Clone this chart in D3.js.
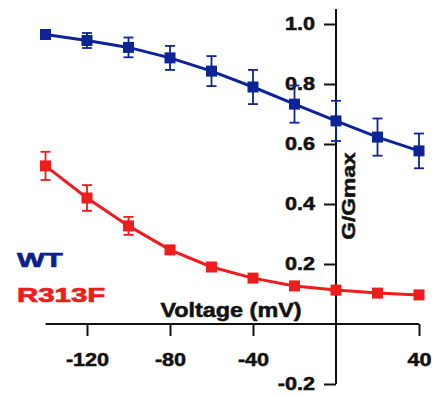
<!DOCTYPE html>
<html>
<head>
<meta charset="utf-8">
<script src="https://cdn.jsdelivr.net/npm/d3@7"></script>
<style>
  body { margin: 0; background: #fff; }
  svg { display: block; font-family: "Liberation Sans", Arial, sans-serif; font-weight: bold; }
</style>
</head>
<body>
<svg id="chart" width="436" height="396"></svg>
<script>
var voltages = [-140, -120, -100, -80, -60, -40, -20, 0, 20, 40];
var wtMean = [0.965, 0.945, 0.922, 0.887, 0.843, 0.79, 0.733, 0.677, 0.623, 0.577];
var wtErr = [0.006, 0.025, 0.033, 0.04, 0.05, 0.057, 0.062, 0.067, 0.062, 0.058];
var mutMean = [0.527, 0.42, 0.327, 0.247, 0.19, 0.153, 0.127, 0.113, 0.103, 0.097];
var mutErr = [0.047, 0.043, 0.03, 0.01, 0.006, 0.005, 0.004, 0.004, 0.004, 0.004];
var xTicks = [-120, -80, -40, 40];
var yTicks = [-0.2, 0.2, 0.4, 0.6, 0.8, 1.0];

var svg = d3.select('#chart');
var x = d3.scaleLinear().domain([-140, 40]).range([45.5, 419]);
var y = d3.scaleLinear().domain([0, 1]).range([324, 24]);

// the source text is a wide heavy face, so stretch it sideways and thicken it
function styleTicks(g, shiftX) {
  g.selectAll('.tick line').attr('stroke', '#111').attr('stroke-width', 2);
  g.selectAll('.tick text').attr('fill', '#111')
    .attr('stroke', '#111').attr('stroke-width', 0.5)
    .style('font-size', '18px').style('font-weight', 'bold')
    .style('font-family', '"Liberation Sans", Arial, sans-serif')
    .attr('x', 0)
    .attr('transform', 'translate(' + shiftX + ',0) scale(1.2,1)');
}

var xAxis = d3.axisBottom(x).tickValues(xTicks).tickSize(12).tickPadding(17).tickSizeOuter(0)
  .tickFormat(function(d) { return String(d); });
var gx = svg.append('g').attr('transform', 'translate(0,' + y(0) + ')').call(xAxis);
gx.select('.domain').attr('stroke', '#111').attr('stroke-width', 2)
  .attr('d', 'M' + x(-140) + ',0H' + x(40));
styleTicks(gx, 0);

var yAxis = d3.axisLeft(y).tickValues(yTicks).tickSize(12).tickPadding(9).tickSizeOuter(0)
  .tickFormat(function(d) { return d.toFixed(1); });
var gy = svg.append('g').attr('transform', 'translate(' + x(0) + ',0)').call(yAxis);
gy.select('.domain').attr('stroke', '#111').attr('stroke-width', 2)
  .attr('d', 'M0,' + y(1.05) + 'V' + y(-0.2));
styleTicks(gy, -21);

svg.append('text').attr('transform', 'translate(231,317) scale(1.2,1)').attr('text-anchor', 'middle')
  .attr('stroke', '#111').attr('stroke-width', 0.5)
  .style('font-size', '19.5px').attr('fill', '#111').text('Voltage (mV)');
svg.append('text').attr('transform', 'translate(355,196) rotate(-90) scale(1.2,1)')
  .attr('stroke', '#111').attr('stroke-width', 0.5)
  .attr('text-anchor', 'middle').style('font-size', '19px').attr('fill', '#111').text('G/Gmax');

function drawSeries(means, errs, color) {
  var pts = voltages.map(function(v, i) { return {v: v, m: means[i], e: errs[i]}; });
  var g = svg.append('g');
  g.append('path').datum(pts)
    .attr('fill', 'none').attr('stroke', color).attr('stroke-width', 3)
    .attr('d', d3.line().x(function(d) { return x(d.v); }).y(function(d) { return y(d.m); }));
  var eb = g.selectAll('g.err').data(pts).enter().append('g').attr('class', 'err')
    .attr('stroke', color).attr('stroke-width', 1.8);
  eb.append('line').attr('x1', function(d) { return x(d.v); }).attr('x2', function(d) { return x(d.v); })
    .attr('y1', function(d) { return y(d.m + d.e); }).attr('y2', function(d) { return y(d.m - d.e); });
  eb.append('line').attr('x1', function(d) { return x(d.v) - 5; }).attr('x2', function(d) { return x(d.v) + 5; })
    .attr('y1', function(d) { return y(d.m + d.e); }).attr('y2', function(d) { return y(d.m + d.e); });
  eb.append('line').attr('x1', function(d) { return x(d.v) - 5; }).attr('x2', function(d) { return x(d.v) + 5; })
    .attr('y1', function(d) { return y(d.m - d.e); }).attr('y2', function(d) { return y(d.m - d.e); });
  g.selectAll('rect').data(pts).enter().append('rect')
    .attr('x', function(d) { return x(d.v) - 5.5; }).attr('y', function(d) { return y(d.m) - 5.5; })
    .attr('width', 11).attr('height', 11).attr('fill', color);
}

drawSeries(wtMean, wtErr, '#0d2496');
drawSeries(mutMean, mutErr, '#ee1c1c');

svg.append('text').attr('transform', 'translate(17,267) scale(1.4,1)').style('font-size', '21px')
  .attr('stroke', '#0d1f8c').attr('stroke-width', 0.7)
  .attr('fill', '#0d1f8c').text('WT');
svg.append('text').attr('transform', 'translate(17,302) scale(1.4,1)').style('font-size', '21px')
  .attr('stroke', '#ee1c1c').attr('stroke-width', 0.7)
  .attr('fill', '#ee1c1c').text('R313F');
</script>
</body>
</html>
